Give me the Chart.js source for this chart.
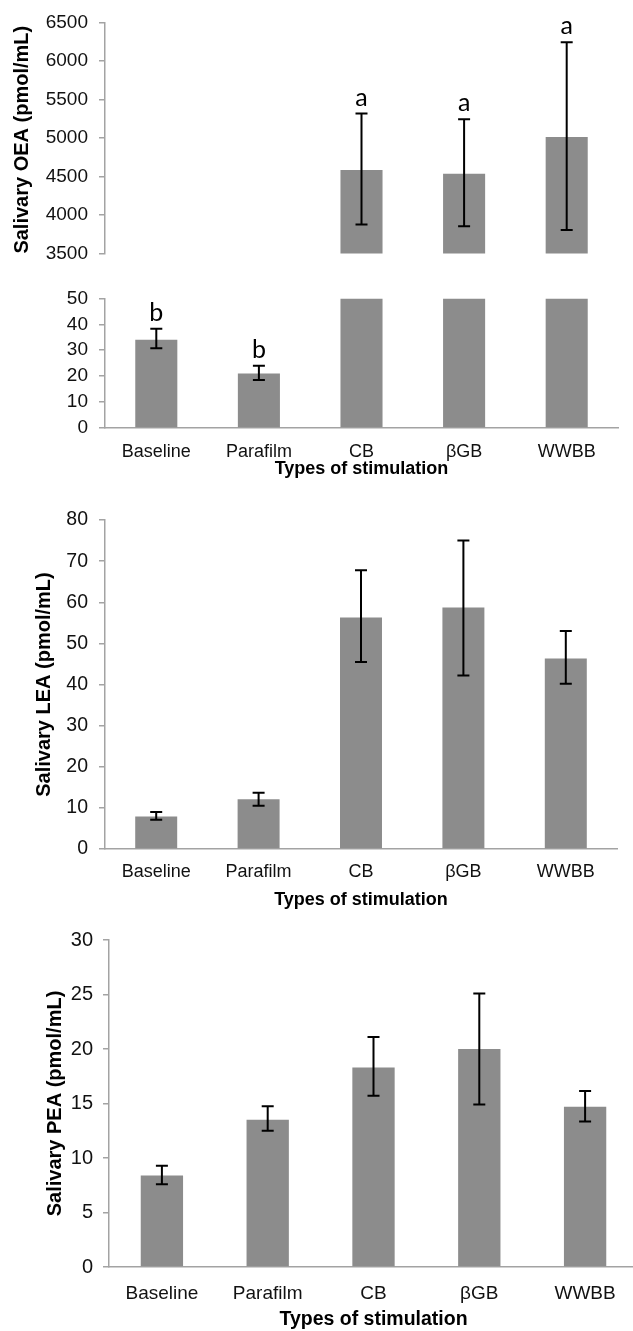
<!DOCTYPE html>
<html>
<head>
<meta charset="utf-8">
<title>Salivary OEA, LEA and PEA by type of stimulation</title>
<script src="https://cdn.jsdelivr.net/npm/chart.js@4.4.0/dist/chart.umd.min.js"></script>
<style>
  html, body { margin: 0; padding: 0; background: #fff; overflow: hidden; }
  body { width: 633px; height: 1331px; position: relative; }
  canvas { position: absolute; left: 0; }
</style>
</head>
<body>
<canvas id="oeaUpper" width="633" height="276" style="top:0px"></canvas>
<canvas id="oeaLower" width="633" height="204" style="top:276px"></canvas>
<canvas id="lea" width="633" height="427" style="top:484px"></canvas>
<canvas id="pea" width="645" height="426" style="top:905px"></canvas>
<script>
const categories = ['Baseline', 'Parafilm', 'CB', 'βGB', 'WWBB'];

// OEA, drawn on a broken axis (lower part 0-50, upper part 3500-6500)
const oeaMean = [34, 21, 4585, 4537, 5012];
const oeaLow = [30.8, 18.5, 3878, 3854, 3805];
const oeaHigh = [38.3, 24, 5317, 5244, 6244];
const oeaLetters = ['b', 'b', 'a', 'a', 'a'];
const oeaLowerTicks = [0, 10, 20, 30, 40, 50];
const oeaUpperTicks = [3500, 4000, 4500, 5000, 5500, 6000, 6500];

// LEA
const leaMean = [7.9, 12.1, 56.3, 58.7, 46.3];
const leaLow = [7.1, 10.5, 45.5, 42.2, 40.2];
const leaHigh = [9.0, 13.7, 67.8, 75.0, 53.0];
const leaTicks = [0, 10, 20, 30, 40, 50, 60, 70, 80];

// PEA
const peaMean = [8.4, 13.5, 18.3, 20.0, 14.7];
const peaLow = [7.6, 12.5, 15.7, 14.9, 13.35];
const peaHigh = [9.3, 14.75, 21.1, 25.1, 16.15];
const peaTicks = [0, 5, 10, 15, 20, 25, 30];

const barGrey = '#8c8c8c';
const axisGrey = '#a3a3a3';

Chart.defaults.font.family = "'Liberation Sans', Arial, Helvetica, sans-serif";
Chart.defaults.color = '#111';

// error bars + significance letters, placed through the chart's own scales
const errorBars = {
    id: 'errorBars',
    afterDatasetsDraw(chart, args, opts) {
        const { ctx } = chart;
        const x = chart.scales.x;
        const y = chart.scales.y;
        ctx.save();
        ctx.strokeStyle = '#000';
        ctx.lineWidth = 2;
        opts.lo.forEach((lo, i) => {
            const hi = opts.hi[i];
            if (lo == null || hi == null) return;
            const px = x.getPixelForValue(i);
            const yTop = y.getPixelForValue(hi);
            const yBot = y.getPixelForValue(lo);
            ctx.beginPath();
            ctx.moveTo(px, yTop); ctx.lineTo(px, yBot);
            ctx.moveTo(px - opts.cap, yTop); ctx.lineTo(px + opts.cap, yTop);
            ctx.moveTo(px - opts.cap, yBot); ctx.lineTo(px + opts.cap, yBot);
            ctx.stroke();
            if (opts.letters && opts.letters[i]) {
                ctx.fillStyle = '#000';
                ctx.font = "25px Lato, 'Open Sans', sans-serif";
                ctx.textAlign = 'center';
                ctx.textBaseline = 'alphabetic';
                ctx.fillText(opts.letters[i], px, yTop - 8);
            }
        });
        ctx.restore();
    }
};

function barChart(id, p) {
    return new Chart(document.getElementById(id), {
        type: 'bar',
        data: {
            labels: categories,
            datasets: [{
                data: p.values,
                backgroundColor: barGrey,
                borderWidth: 0,
                barPercentage: p.barPct,
                categoryPercentage: 1
            }]
        },
        options: {
            responsive: false,
            animation: false,
            events: [],
            layout: { autoPadding: false, padding: p.pad },
            plugins: {
                legend: { display: false },
                tooltip: { enabled: false },
                errorBars: { lo: p.lo, hi: p.hi, letters: p.letters, cap: 6 }
            },
            scales: {
                x: {
                    display: p.showX,
                    grid: { display: false, drawTicks: false },
                    border: { display: true, color: axisGrey, width: 1.5 },
                    ticks: { padding: p.xTickPad, font: { size: p.xFont }, color: '#111' },
                    title: {
                        display: true,
                        text: 'Types of stimulation',
                        color: '#000',
                        font: { size: p.xTitleSize, weight: 'bold' },
                        padding: { top: 0, bottom: p.xTitlePad }
                    },
                    afterFit: s => { s.height = p.xHeight; }
                },
                y: {
                    min: p.ticks[0],
                    max: p.ticks[p.ticks.length - 1],
                    ticks: {
                        stepSize: p.ticks[1] - p.ticks[0],
                        padding: p.yTickPad,
                        font: { size: p.yFont },
                        color: '#111',
                        callback: v => String(v)
                    },
                    grid: { drawOnChartArea: false, tickLength: 6, color: axisGrey, lineWidth: 1.5 },
                    border: { display: true, color: axisGrey, width: 1.5 },
                    title: {
                        display: !!p.yTitle,
                        text: p.yTitle || '',
                        align: p.yTitleAlign || 'center',
                        color: '#000',
                        font: { size: 20, weight: 'bold' },
                        padding: { top: p.yTitlePad, bottom: 0 }
                    },
                    afterFit: s => { s.width = p.yWidth; }
                }
            }
        },
        plugins: [errorBars]
    });
}

// broken OEA axis: the lower part shows bars capped at its top, the upper part bars above its floor
const lowerMax = oeaLowerTicks[oeaLowerTicks.length - 1];
const upperMin = oeaUpperTicks[0];

barChart('oeaUpper', {
    values: oeaMean.map(v => (v > upperMin ? v : null)),
    lo: oeaLow.map((v, i) => (oeaMean[i] > upperMin ? v : null)),
    hi: oeaHigh.map((v, i) => (oeaMean[i] > upperMin ? v : null)),
    letters: oeaLetters.map((l, i) => (oeaMean[i] > upperMin ? l : null)),
    ticks: oeaUpperTicks,
    yTitle: 'Salivary OEA (pmol/mL)',
    yTitleAlign: 'start',
    yTitlePad: 10,
    showX: false,
    barPct: 0.41,
    pad: { top: 20, right: 15, bottom: 9, left: 0 },
    yWidth: 105, yFont: 19, yTickPad: 11,
    xHeight: 0, xFont: 18, xTickPad: 14, xTitleSize: 18, xTitlePad: 0
});

barChart('oeaLower', {
    values: oeaMean.map(v => Math.min(v, lowerMax)),
    lo: oeaLow.map((v, i) => (oeaMean[i] < lowerMax ? v : null)),
    hi: oeaHigh.map((v, i) => (oeaMean[i] < lowerMax ? v : null)),
    letters: oeaLetters.map((l, i) => (oeaMean[i] < lowerMax ? l : null)),
    ticks: oeaLowerTicks,
    yTitle: null,
    yTitlePad: 0,
    showX: true,
    barPct: 0.41,
    pad: { top: 12, right: 15, bottom: 0, left: 0 },
    yWidth: 105, yFont: 19, yTickPad: 11,
    xHeight: 52, xFont: 18, xTickPad: 13, xTitleSize: 18, xTitlePad: 0
});

barChart('lea', {
    values: leaMean,
    lo: leaLow,
    hi: leaHigh,
    letters: null,
    ticks: leaTicks,
    yTitle: 'Salivary LEA (pmol/mL)',
    yTitlePad: 32,
    showX: true,
    barPct: 0.41,
    pad: { top: 36, right: 16, bottom: 0, left: 0 },
    yWidth: 105, yFont: 19.5, yTickPad: 11,
    xHeight: 62, xFont: 18, xTickPad: 12, xTitleSize: 18, xTitlePad: 0
});

barChart('pea', {
    values: peaMean,
    lo: peaLow,
    hi: peaHigh,
    letters: null,
    ticks: peaTicks,
    yTitle: 'Salivary PEA (pmol/mL)',
    yTitlePad: 43,
    showX: true,
    barPct: 0.4,
    pad: { top: 35, right: 7, bottom: 0, left: 0 },
    yWidth: 109, yFont: 20, yTickPad: 10,
    xHeight: 64, xFont: 19, xTickPad: 15, xTitleSize: 19.5, xTitlePad: 0
});
</script>
</body>
</html>
